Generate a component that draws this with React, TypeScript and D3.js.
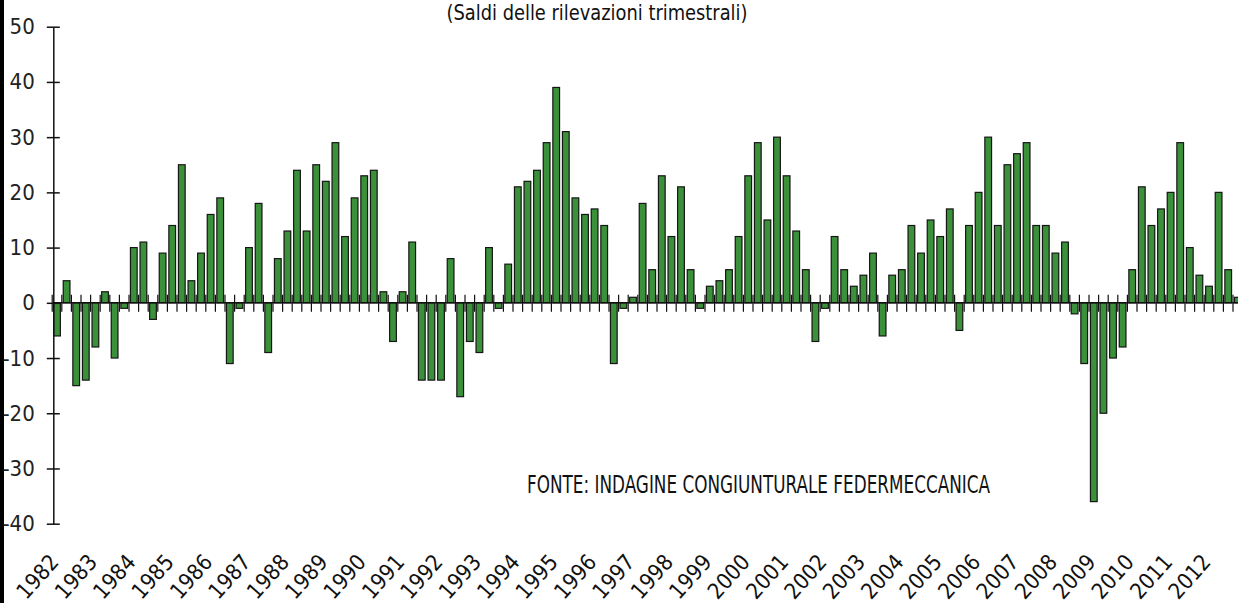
import React, { useEffect, useRef } from "react";
import * as d3 from "d3";

// anni (etichette asse x), una etichetta ogni 4 trimestri
const years = [
  "1982", "1983", "1984", "1985", "1986", "1987", "1988", "1989", "1990", "1991",
  "1992", "1993", "1994", "1995", "1996", "1997", "1998", "1999", "2000", "2001",
  "2002", "2003", "2004", "2005", "2006", "2007", "2008", "2009", "2010", "2011", "2012",
];

// saldi trimestrali, Q1..Q4 per anno
const saldi = [
  -6, 4, -15, -14,
  -8, 2, -10, -1,
  10, 11, -3, 9,
  14, 25, 4, 9,
  16, 19, -11, -1,
  10, 18, -9, 8,
  13, 24, 13, 25,
  22, 29, 12, 19,
  23, 24, 2, -7,
  2, 11, -14, -14,
  -14, 8, -17, -7,
  -9, 10, -1, 7,
  21, 22, 24, 29,
  39, 31, 19, 16,
  17, 14, -11, -1,
  1, 18, 6, 23,
  12, 21, 6, -1,
  3, 4, 6, 12,
  23, 29, 15, 30,
  23, 13, 6, -7,
  -1, 12, 6, 3,
  5, 9, -6, 5,
  6, 14, 9, 15,
  12, 17, -5, 14,
  20, 30, 14, 25,
  27, 29, 14, 14,
  9, 11, -2, -11,
  -36, -20, -10, -8,
  6, 21, 14, 17,
  20, 29, 10, 5,
  3, 20, 6, 1,
];

const yTicks = [50, 40, 30, 20, 10, 0, -10, -20, -30, -40];

const title = "(Saldi delle rilevazioni trimestrali)";
const fonte = "FONTE: INDAGINE CONGIUNTURALE FEDERMECCANICA";

const font = "'Liberation Sans Narrow', 'DejaVu Sans Condensed', 'Liberation Sans', sans-serif";

export default function App() {
  const svgRef = useRef<SVGSVGElement>(null);

  useEffect(() => {
    const w = 1238;
    const h = 603;
    const svg = d3.select(svgRef.current).attr("width", w).attr("height", h);
    svg.selectAll("*").remove();

    const x = d3
      .scaleBand<number>()
      .domain(d3.range(saldi.length))
      .range([52.2, 52.2 + saldi.length * 9.6])
      .paddingInner(0.3)
      .paddingOuter(0.15);
    const y = d3.scaleLinear().domain([-40, 50]).range([523.7, 26.7]);
    const y0 = y(0);
    const step = x.step();
    const start = x.range()[0];

    // bordo nero a sinistra
    svg.append("rect").attr("x", 0).attr("y", 0).attr("width", 4).attr("height", h).attr("fill", "#000");

    // tacche trimestrali sull'asse x
    svg
      .append("g")
      .selectAll("line")
      .data(d3.range(saldi.length + 1))
      .join("line")
      .attr("x1", (i) => start + i * step)
      .attr("x2", (i) => start + i * step)
      .attr("y1", y0 - 8)
      .attr("y2", y0 + 9)
      .attr("stroke", "#111")
      .attr("stroke-width", 1.2);

    // barre
    svg
      .append("g")
      .selectAll("rect")
      .data(saldi)
      .join("rect")
      .attr("x", (_, i) => x(i)!)
      .attr("width", x.bandwidth())
      .attr("y", (d) => (d >= 0 ? y(d) : y0))
      .attr("height", (d) => Math.abs(y(d) - y0))
      .attr("fill", "#3b9139")
      .attr("stroke", "#151515")
      .attr("stroke-width", 1.2);

    // asse x
    svg
      .append("line")
      .attr("x1", 53.3)
      .attr("x2", w)
      .attr("y1", y0)
      .attr("y2", y0)
      .attr("stroke", "#111")
      .attr("stroke-width", 1.5);

    // asse y
    const yAxis = svg
      .append("g")
      .attr("transform", "translate(53.3,0)")
      .call(
        d3
          .axisLeft(y)
          .tickValues(yTicks)
          .tickSize(6.5)
          .tickSizeOuter(0)
          .tickPadding(12)
          .tickFormat((d) => String(d))
      );
    yAxis.select(".domain").attr("stroke", "#111").attr("stroke-width", 1.5);
    yAxis.selectAll(".tick line").attr("x1", 6.5).attr("stroke", "#111").attr("stroke-width", 1.5);
    yAxis
      .selectAll(".tick text")
      .attr("font-family", font)
      .attr("font-size", 22)
      .attr("fill", "#222");

    // etichette anni
    svg
      .append("g")
      .selectAll("text")
      .data(years)
      .join("text")
      .attr("transform", (_, j) => `translate(${x(j * 4)! + x.bandwidth() / 2 + 3},563) rotate(-48)`)
      .attr("text-anchor", "end")
      .attr("font-family", font)
      .attr("font-size", 22)
      .attr("fill", "#111")
      .text((d) => d);

    svg
      .append("text")
      .attr("x", 597)
      .attr("y", 20)
      .attr("text-anchor", "middle")
      .attr("font-family", font)
      .attr("font-size", 22)
      .attr("textLength", 301)
      .attr("lengthAdjust", "spacingAndGlyphs")
      .attr("fill", "#111")
      .text(title);

    svg
      .append("text")
      .attr("x", 527)
      .attr("y", 493)
      .attr("font-family", font)
      .attr("font-size", 24)
      .attr("textLength", 463)
      .attr("lengthAdjust", "spacingAndGlyphs")
      .attr("fill", "#111")
      .text(fonte);
  }, []);

  return (
    <div style={{ position: "absolute", left: 0, top: 0, background: "#fff" }}>
      <svg ref={svgRef} style={{ display: "block" }}></svg>
    </div>
  );
}
